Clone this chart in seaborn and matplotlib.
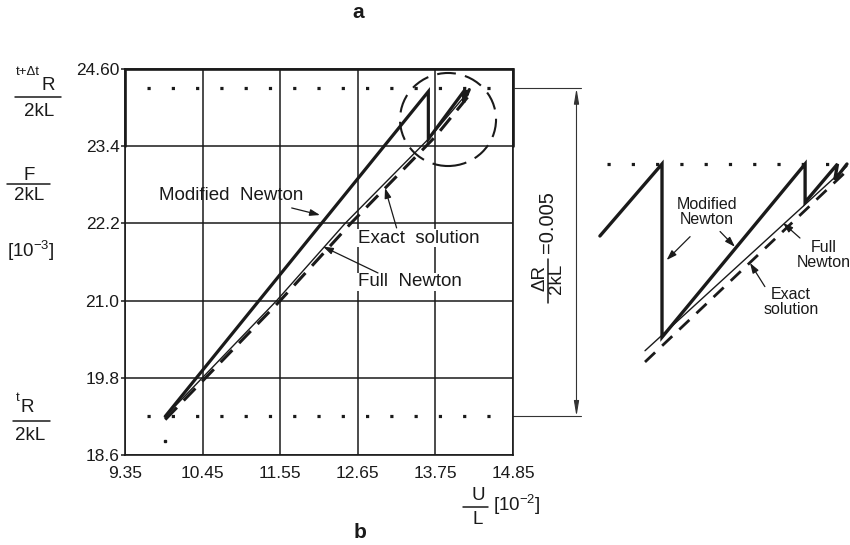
import matplotlib
matplotlib.use("Agg")
import matplotlib.pyplot as plt
import seaborn as sns
import pandas as pd
import numpy as np
from matplotlib.patches import Ellipse
from matplotlib.lines import Line2D

# ---------------- data ----------------
u_ticks = [9.35, 10.45, 11.55, 12.65, 13.75, 14.85]
u_tick_labels = ["9.35", "10.45", "11.55", "12.65", "13.75", "14.85"]
f_ticks = [18.6, 19.8, 21.0, 22.2, 23.4, 24.6]
f_tick_labels = ["18.6", "19.8", "21.0", "22.2", "23.4", "24.60"]

R_t = 19.2      # tR/2kL
R_tdt = 24.3    # t+dt R/2kL

mod_U = [9.92, 13.65, 13.65, 14.15, 14.15, 14.20, 14.19, 14.23]
mod_F = [19.20, 24.25, 23.51, 24.25, 24.08, 24.27, 24.18, 24.28]
full_U = [9.92, 11.50, 12.47, 13.65, 14.22]
full_F = [19.20, 21.00, 22.20, 23.51, 24.25]
exact_U = [9.92, 11.55, 12.55, 13.75, 14.22]
exact_F = [19.15, 21.00, 22.20, 23.55, 24.18]
stray_U = [9.92]
stray_F = [18.81]

# inset (magnified circled region)
ins_mod_U = [13.42, 13.65, 13.65, 14.18, 14.18, 14.30, 14.29, 14.335]
ins_mod_F = [23.98, 24.30, 23.53, 24.30, 24.13, 24.30, 24.23, 24.30]
ins_full_U = [13.587, 14.335]
ins_full_F = [23.47, 24.29]
ins_exact_U = [13.587, 14.335]
ins_exact_F = [23.42, 24.27]

W, H = 850, 545
sns.set_style("white")
plt.rcParams["font.family"] = ["Liberation Sans", "DejaVu Sans"]
plt.rcParams["mathtext.fontset"] = "custom"
plt.rcParams["mathtext.rm"] = "Liberation Sans"
plt.rcParams["mathtext.it"] = "Liberation Sans"

K = "#1a1a1a"
fig = plt.figure(figsize=(W / 100, H / 100), dpi=100)
ax = fig.add_axes([125 / W, 1 - 455 / H, (513 - 125) / W, (455 - 69) / H])


def P(x, y):
    return (x / W, 1 - y / H)


def hbar(x0, x1, y, lw=1.1, color=K):
    fig.add_artist(Line2D([x0 / W, x1 / W], [1 - y / H, 1 - y / H], color=color, lw=lw))


def line(a, U, F, **kw):
    df = pd.DataFrame({"U": U, "F": F})
    sns.lineplot(data=df, x="U", y="F", ax=a, sort=False, estimator=None,
                 color=K, legend=False, **kw)


# reference levels (dotted)
for lvl in (R_t, R_tdt):
    line(ax, [9.66, 14.67], [lvl, lvl], lw=2.3,
         linestyle=(0, (1, 6.6)), dash_capstyle="butt")

line(ax, exact_U, exact_F, lw=2.2, linestyle=(0, (5.5, 3.2)))
line(ax, full_U, full_F, lw=1.0)
line(ax, mod_U, mod_F, lw=2.3, solid_joinstyle="miter")
ax.plot(stray_U, stray_F, "s", ms=2.0, color=K)

ax.set_xlim(9.35, 14.85)
ax.set_ylim(18.6, 24.6)
ax.set_xticks(u_ticks)
ax.set_xticklabels(u_tick_labels)
ax.set_yticks(f_ticks)
ax.set_yticklabels(f_tick_labels)
ax.grid(True, color=K, lw=1.1)
ax.tick_params(axis="x", length=0, pad=8, labelsize=12.5, colors=K)
ax.tick_params(axis="y", length=3, width=1.1, pad=1, labelsize=12.5, colors=K, left=True)
ax.set_xlabel("")
ax.set_ylabel("")
for s in ax.spines.values():
    s.set_color(K)
    s.set_linewidth(1.2)

# heavier border around top row
ax.plot([9.35, 9.35, 14.85, 14.85], [23.4, 24.6, 24.6, 23.4], color=K, lw=1.9,
        clip_on=False, solid_joinstyle="miter")
ax.add_patch(Ellipse((13.929, 23.815), 1.361, 1.446, fill=False, lw=1.5, ec=K,
                     linestyle=(0, (9, 4.5)), clip_on=False))

arw = dict(arrowstyle="-|>,head_length=0.6,head_width=0.2", color=K, lw=0.9,
           shrinkA=0, shrinkB=0)
fs = 13.5
ax.text(9.832, 22.64, "Modified  Newton", fontsize=fs, ha="left", va="center", color=K)
ax.annotate("", xy=(12.114, 22.33), xytext=(11.713, 22.44), arrowprops=arw)
ax.text(12.653, 21.97, "Exact  solution", fontsize=fs, ha="left", va="center", color=K,
        bbox=dict(fc="white", ec="none", pad=0.5))
ax.annotate("", xy=(13.036, 22.75), xytext=(13.20, 22.13), arrowprops=arw)
ax.text(12.653, 21.29, "Full  Newton", fontsize=fs, ha="left", va="center", color=K,
        bbox=dict(fc="white", ec="none", pad=0.5))
ax.annotate("", xy=(12.157, 21.84), xytext=(12.936, 21.43), arrowprops=arw)

# dimension line at right
for lvl in (R_t, R_tdt):
    ax.plot([14.85, 15.81], [lvl, lvl], color="#333", lw=0.8, clip_on=False)
ax.annotate("", xy=(15.75, R_tdt), xytext=(15.75, R_t),
            arrowprops=dict(arrowstyle="<|-|>,head_length=0.9,head_width=0.15",
                            color="#333", lw=0.8, shrinkA=0, shrinkB=0),
            annotation_clip=False)
fig.text(*P(540, 278), "\u0394R", rotation=90, fontsize=13.5, ha="center", va="center", color=K)
fig.text(*P(556, 279), "2kL", rotation=90, fontsize=13.5, ha="center", va="center", color=K)
fig.add_artist(Line2D([547.5 / W, 547.5 / W], [1 - 259 / H, 1 - 303 / H], color=K, lw=1.1))
fig.text(*P(547, 222), "=0.005", rotation=90, fontsize=14.5, ha="center", va="center", color=K)

# left labels
fig.text(*P(27.5, 72), "t+\u0394t", fontsize=9.5, ha="center", va="center", color=K)
fig.text(*P(48, 86), "R", fontsize=13.5, ha="center", va="center", color=K)
hbar(15, 61, 97)
fig.text(*P(39, 111), "2kL", fontsize=13.5, ha="center", va="center", color=K)

fig.text(*P(29, 175), "F", fontsize=13.5, ha="center", va="center", color=K)
hbar(7, 50, 183.5)
fig.text(*P(29, 196), "2kL", fontsize=13.5, ha="center", va="center", color=K)
fig.text(*P(31, 251), r"[10$^{-3}$]", fontsize=13.5, ha="center", va="center", color=K)

fig.text(*P(17.5, 398), "t", fontsize=9.5, ha="center", va="center", color=K)
fig.text(*P(27, 408), "R", fontsize=13.5, ha="center", va="center", color=K)
hbar(13, 50, 421)
fig.text(*P(30, 435), "2kL", fontsize=13.5, ha="center", va="center", color=K)

# bottom label
fig.text(*P(478, 496), "U", fontsize=13.5, ha="center", va="center", color=K)
hbar(463, 488, 507)
fig.text(*P(478, 520), "L", fontsize=13.5, ha="center", va="center", color=K)
fig.text(*P(517, 505), r"[10$^{-2}$]", fontsize=13.5, ha="center", va="center", color=K)

fig.text(*P(358, 13), "a", fontsize=15, fontweight="bold", ha="center", va="center", color=K)
fig.text(*P(360, 532), "b", fontsize=15, fontweight="bold", ha="center", va="center", color=K)

# ---------------- inset ----------------
ax2 = fig.add_axes([590 / W, 1 - 370 / H, 260 / W, 220 / H])
ax2.set_xlim(13.3833, 14.3463)
ax2.set_ylim(23.3844, 24.3622)
ax2.axis("off")
line(ax2, [13.446, 14.339], [R_tdt, R_tdt], lw=2.3,
     linestyle=(0, (1, 6.6)), dash_capstyle="butt")
line(ax2, ins_exact_U, ins_exact_F, lw=2.0, linestyle=(0, (5, 3.5)))
line(ax2, ins_full_U, ins_full_F, lw=1.0)
line(ax2, ins_mod_U, ins_mod_F, lw=2.4, solid_joinstyle="miter")
for l in ax2.lines:
    l.set_clip_on(False)
ax2.set_xlabel("")
ax2.set_ylabel("")

fs2 = 11.5
ax2.text(13.817, 24.087, "Modified\nNewton", fontsize=fs2, ha="center", va="center",
         color=K, linespacing=1.05)
ax2.annotate("", xy=(13.667, 23.873), xytext=(13.754, 23.977), arrowprops=arw)
ax2.annotate("", xy=(13.92, 23.932), xytext=(13.865, 24.0), arrowprops=arw)
ax2.text(14.25, 23.896, "Full\nNewton", fontsize=fs2, ha="center", va="center",
         color=K, linespacing=1.05)
ax2.annotate("", xy=(14.098, 24.038), xytext=(14.161, 23.971), arrowprops=arw)
ax2.text(14.128, 23.687, "Exact\nsolution", fontsize=fs2, ha="center", va="center",
         color=K, linespacing=1.05)
ax2.annotate("", xy=(13.976, 23.86), xytext=(14.031, 23.755), arrowprops=arw)

fig.savefig("out.png", dpi=100)
